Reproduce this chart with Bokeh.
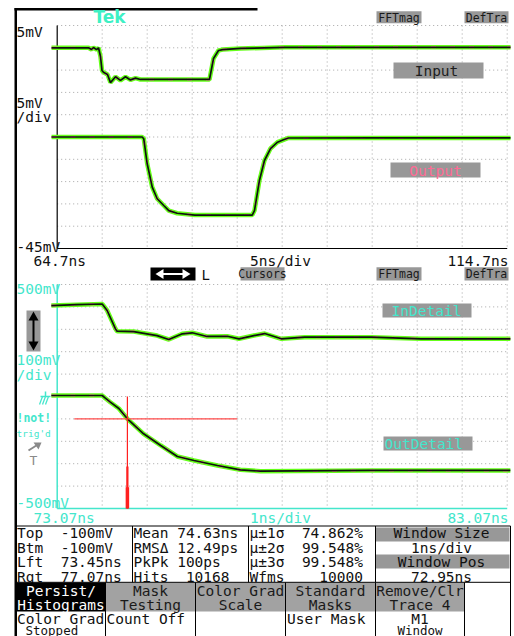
import numpy as np
from bokeh.plotting import figure
from bokeh.models import Range1d
from bokeh.core.properties import value
from bokeh.embed import file_html
from bokeh.resources import INLINE

# ---------------- data ----------------
# Upper window: 64.7 .. 114.7 ns (5 ns/div), 5 .. -45 mV (5 mV/div)
top_time_ns = [64.7, 114.7]
top_volt_mv = [5.0, -45.0]
top_time_labels = ["64.7ns", "5ns/div", "114.7ns"]
top_volt_labels = ["5mV", "5mV", "/div", "-45mV"]

input_t = [64.07, 68.18, 68.51, 68.73, 69.07, 69.29, 69.51, 69.68, 69.84, 70.29,
           70.62, 71.18, 71.73, 72.29, 72.84, 73.40, 73.95, 81.62, 82.07, 82.62,
           83.07, 85.07, 90.0, 100.0, 115.07]
input_mv = [0.0, 0.0, -0.38, 0.07, -0.4, 0.0, -1.95, -5.1, -5.5, -6.0,
            -7.8, -6.5, -7.3, -6.5, -7.2, -6.8, -7.1, -7.1, -2.4, -0.6,
            -0.4, -0.15, 0.1, 0.1, 0.1]

output_t = [64.07, 74.14, 74.32, 74.70, 75.26, 75.81, 76.54, 77.10, 78.03, 80.0,
            86.37, 86.62, 87.17, 87.73, 88.40, 89.18, 89.84, 90.40, 100.0, 115.07]
output_mv = [-20.0, -20.0, -20.4, -26.0, -31.25, -33.85, -35.36, -36.5, -37.1, -37.5,
             -37.5, -36.5, -29.75, -25.27, -22.58, -21.16, -20.63, -20.22, -20.2, -20.2]

# Lower window: 73.07 .. 83.07 ns (1 ns/div), 500 .. -500 mV (100 mV/div)
bot_time_ns = [73.07, 83.07]
bot_volt_mv = [500.0, -500.0]
bot_time_labels = ["73.07ns", "1ns/div", "83.07ns"]
bot_volt_labels = ["500mV", "100mV", "/div", "-500mV"]

indetail_t = [72.94, 73.5, 74.07, 74.18, 74.365, 74.40, 74.77, 75.29, 75.55, 75.85,
              76.07, 76.40, 76.85, 77.11, 77.44, 77.68, 78.05, 78.57, 80.05, 81.16, 83.14]
indetail_mv = [406, 410, 413, 384, 302, 291.5, 290, 272, 254.5, 280,
               284.4, 268, 269, 257.6, 272, 281, 257.6, 265, 265, 257.6, 257.6]

outdetail_t = [72.94, 74.07, 74.14, 74.25, 74.44, 74.63, 74.99, 75.37, 75.74, 76.11,
               76.63, 77.14, 77.59, 80.0, 83.14]
outdetail_mv = [4.5, 4.5, -7.6, -25.4, -53.5, -99.5, -166.5, -218.7, -267.8, -285.7,
                -308, -327.2, -333.4, -330, -330]

# cursors / histogram
cursor_level_mv = -100.0
cursor_left_ns = 73.45
cursor_right_ns = 77.07
hist_mean_ns = 74.63
hist_levels_mv = [0.0, -312.0, -405.0]

trace_names = ["Input", "Output", "InDetail", "OutDetail"]

meas_col1 = ["Top  -100mV", "Btm  -100mV", "Lft  73.45ns", "Rgt  77.07ns"]
meas_col2 = ["Mean 74.63ns", "RMS\u0394 12.49ps", "PkPk 100ps", "Hits  10168"]
meas_col3 = ["\u03bc\u00b11\u03c3  74.862%", "\u03bc\u00b12\u03c3  99.548%",
             "\u03bc\u00b13\u03c3  99.548%", "Wfms    10000"]
window_col = ["Window Size", "1ns/div", "Window Pos", "72.95ns"]

menu_top = [("Persist/", "Histograms"), ("Mask", "Testing"), ("Color Grad", "Scale"),
            ("Standard", "Masks"), ("Remove/Clr", "Trace 4")]
menu_bottom = [("Color Grad", "Stopped"), ("Count Off", ""), ("", ""), ("User Mask", ""),
               ("M1", "Window")]

# ---------------- layout (screen pixels) ----------------
W, H = 514, 636
PL, PR = 56.7, 506.7
TT, TB = 25.0, 248.0
BT, BB = 284.0, 508.0

MONO = value("DejaVu Sans Mono")
CYAN = "#44e6cc"
GREEN = "#66ff1a"
PINK = "#ff7aa0"
GRAY = "#989898"
DOT = "#a6a6a6"

p = figure(width=W, height=H, x_range=Range1d(0, W), y_range=Range1d(H, 0),
           output_backend="svg", toolbar_location=None, min_border=0,
           x_axis_location=None, y_axis_location=None,
           outline_line_color=None, background_fill_color="white",
           border_fill_color="white")
p.grid.visible = False


def fit_range(va, vb, pa, pb, p_start, p_end):
    s = (vb - va) / (pb - pa)
    return Range1d(start=va + (p_start - pa) * s, end=va + (p_end - pa) * s)


p.extra_x_ranges = {
    "t1": fit_range(top_time_ns[0], top_time_ns[1], PL, PR, 0, W),
    "t2": fit_range(bot_time_ns[0], bot_time_ns[1], PL, PR, 0, W),
}
p.extra_y_ranges = {
    "v1": fit_range(top_volt_mv[0], top_volt_mv[1], TT, TB, H, 0),
    "v2": fit_range(bot_volt_mv[0], bot_volt_mv[1], BT, BB, H, 0),
}


def txt(x, y, s, color="#111111", size="14.5px", align="left", font=MONO,
        style="normal", xr="default", yr="default"):
    s = s.replace(" ", "\u00a0")
    p.text(x=[x], y=[y], text=[s], text_color=color, text_font=font,
           text_font_size=size, text_align=align, text_baseline="middle",
           text_font_style=style, x_range_name=xr, y_range_name=yr)


def box(l, r, t, b, color):
    p.quad(left=[l], right=[r], top=[t], bottom=[b], fill_color=color, line_color=None)


def hline(x0, x1, y, color="black", w=1):
    p.segment(x0=[x0], x1=[x1], y0=[y], y1=[y], line_color=color, line_width=w)


def vline(x, y0, y1, color="black", w=1):
    p.segment(x0=[x], x1=[x], y0=[y0], y1=[y1], line_color=color, line_width=w)


# ---------------- graticules ----------------
def graticule(t_lim, v_lim, nx, ny, xr, yr):
    t0, t1 = t_lim
    v0, v1 = v_lim
    dt = (t1 - t0) / nx
    dv = (v1 - v0) / ny
    xs = [t0 + k * dt for k in range(1, nx + 1)]
    ys = [v0 + k * dv for k in range(0, ny)]
    p.segment(x0=xs, x1=xs, y0=[v0] * len(xs), y1=[v1] * len(xs),
              line_color=DOT, line_dash="1 3", line_width=1, x_range_name=xr, y_range_name=yr)
    p.segment(x0=[t0] * len(ys), x1=[t1] * len(ys), y0=ys, y1=ys,
              line_color=DOT, line_dash="1 3", line_width=1, x_range_name=xr, y_range_name=yr)


graticule(top_time_ns, top_volt_mv, 10, 10, "t1", "v1")
graticule(bot_time_ns, bot_volt_mv, 10, 10, "t2", "v2")

# axes
p.segment(x0=[top_time_ns[0], top_time_ns[0]], x1=[top_time_ns[0], top_time_ns[1]],
          y0=[top_volt_mv[0], top_volt_mv[1]], y1=[top_volt_mv[1], top_volt_mv[1]],
          line_color="black", line_width=1.2, x_range_name="t1", y_range_name="v1")
p.segment(x0=[bot_time_ns[0], bot_time_ns[0]], x1=[bot_time_ns[0], bot_time_ns[1]],
          y0=[bot_volt_mv[0], bot_volt_mv[1]], y1=[bot_volt_mv[1], bot_volt_mv[1]],
          line_color=CYAN, line_width=1.5, x_range_name="t2", y_range_name="v2")


# ---------------- traces ----------------
def trace(t, v, xr, yr):
    p.line(t, v, line_color=GREEN, line_width=4.5, x_range_name=xr, y_range_name=yr)
    p.line(t, v, line_color=PINK, line_width=2, line_dash="5 14", x_range_name=xr, y_range_name=yr)
    p.line(t, v, line_color="#111111", line_width=1.7, x_range_name=xr, y_range_name=yr)


trace(input_t, input_mv, "t1", "v1")
trace(output_t, output_mv, "t1", "v1")
trace(indetail_t, indetail_mv, "t2", "v2")
trace(outdetail_t, outdetail_mv, "t2", "v2")

# cursors and histogram spike
p.segment(x0=[cursor_left_ns], x1=[cursor_right_ns], y0=[cursor_level_mv], y1=[cursor_level_mv],
          line_color="#ff4a4a", line_width=1.2, x_range_name="t2", y_range_name="v2")
for lvl, w in zip(hist_levels_mv, [1.2, 2.2, 3.5]):
    p.segment(x0=[hist_mean_ns], x1=[hist_mean_ns], y0=[lvl], y1=[bot_volt_mv[1]],
              line_color="#ff2020", line_width=w, x_range_name="t2", y_range_name="v2")

# ---------------- frame / chrome ----------------
box(14, 16.5, 7.5, H, "black")
box(14, 257, 7.5, 10, "black")

txt(109, 16, "Tek", color="#3ef0c4", size="17px", align="center",
    font=value("DejaVu Sans"), style="bold")

for (l, r, t, b, s) in [(376, 421, 10.7, 22.7, "FFTmag"), (464, 508, 10.7, 22.7, "DefTra"),
                        (240, 284, 266.7, 280, "Cursors"), (376, 421, 266.7, 280, "FFTmag"),
                        (464, 508, 266.7, 280, "DefTra")]:
    box(l, r, t, b, GRAY)
    txt((l + r) / 2, (t + b) / 2 + 0.5, s, color="#1a1a1a", size="11.5px", align="center")

# horizontal double arrow icon
box(150, 195, 267, 280, "black")
hline(161, 184, 273.5, "white", 2)
p.patches(xs=[[155, 163, 163], [190, 182, 182]], ys=[[273.5, 268.5, 278.5], [273.5, 268.5, 278.5]],
          fill_color="white", line_color=None)
txt(201, 274, "L", color="#111111", size="14px")

# vertical double arrow icon
box(26, 40, 310, 351, GRAY)
vline(33, 318, 343, "black", 2)
p.patches(xs=[[33, 28, 38], [33, 28, 38]], ys=[[311, 320, 320], [350, 341, 341]],
          fill_color="black", line_color=None)

# ground marker, trigger status
hline(40, 50, 396, CYAN, 1.5)
vline(45, 391, 396, CYAN, 1.5)
p.segment(x0=[42, 45, 48], x1=[39, 42, 45], y0=[396, 396, 396], y1=[404, 404, 404],
          line_color=CYAN, line_width=1.3)
txt(16, 417, "!not!", color=CYAN, size="11.5px", style="bold")
txt(16, 433, "trig'd", color=CYAN, size="9.5px")
p.segment(x0=[28], x1=[39], y0=[450], y1=[443], line_color="#8a8a8a", line_width=2)
p.patches(xs=[[41, 33, 38]], ys=[[442, 442, 449]], fill_color="#8a8a8a", line_color=None)
txt(33, 459.5, "T", color="#8a8a8a", size="13px", align="center")

# axis scale texts
txt(16, 31, top_volt_labels[0])
txt(16, 102.5, top_volt_labels[1])
txt(16, 116, top_volt_labels[2])
txt(16, 246, top_volt_labels[3])
txt(33, 260, top_time_labels[0])
txt(280, 260, top_time_labels[1], align="center")
txt(508, 260, top_time_labels[2], align="right")

txt(16, 288.3, bot_volt_labels[0], color=CYAN)
txt(16, 359.5, bot_volt_labels[1], color=CYAN)
txt(16, 374, bot_volt_labels[2], color=CYAN)
txt(16, 502.3, bot_volt_labels[3], color=CYAN)
txt(33, 517, bot_time_labels[0], color=CYAN)
txt(280, 517, bot_time_labels[1], color=CYAN, align="center")
txt(508, 517, bot_time_labels[2], color=CYAN, align="right")

# trace name tags
box(393, 483, 62, 78, GRAY)
txt(436, 70.5, trace_names[0], color="#1e1e1e", align="center")
box(390, 480, 162, 177, GRAY)
txt(435, 170, trace_names[1], color="#ff6a95", align="center")
box(382, 471, 303, 317, GRAY)
txt(426, 310.5, trace_names[2], color=CYAN, align="center")
box(383, 472, 436, 450, GRAY)
txt(384, 443.5, trace_names[3], color=CYAN)

# ---------------- measurement table ----------------
hline(16, 510, 525.5)
for x in [132, 248, 375]:
    vline(x, 525.5, 582)
box(375.5, 509, 527, 541, GRAY)
box(375.5, 509, 554, 568, GRAY)
rows_y = [532.5, 547, 561.5, 576]
for y, a, b, c, d in zip(rows_y, meas_col1, meas_col2, meas_col3, window_col):
    txt(16.5, y, a)
    txt(133, y, b)
    txt(249, y, c)
    txt(441, y, d, align="center")

# menu
box(16.5, 105, 582, 611, "black")
box(105, 464, 582, 611, "#a2a2a2")
hline(16, 510, 581.8)
vline(510, 525.5, H)
for x in [105, 195, 285, 375, 464]:
    vline(x, 582, H)
centers = [60.5, 150, 240, 330, 419.5]
for i, (cx, (l1, l2)) in enumerate(zip(centers, menu_top)):
    col = "white" if i == 0 else "#1a1a1a"
    txt(cx, 590.5, l1, color=col, align="center")
    txt(cx, 604.5, l2, color=col, align="center")
# lower soft-key row (second lines sit at the bottom edge of the screen)
txt(16.5, 618.5, menu_bottom[0][0])
txt(25, 629.5, menu_bottom[0][1], size="12.5px")
txt(106, 618.5, menu_bottom[1][0])
txt(286.5, 618.5, menu_bottom[3][0])
txt(419.5, 618.5, menu_bottom[4][0], align="center")
txt(419.5, 629.5, menu_bottom[4][1], size="12.5px", align="center")

open("out.html", "w").write(file_html(p, INLINE))
